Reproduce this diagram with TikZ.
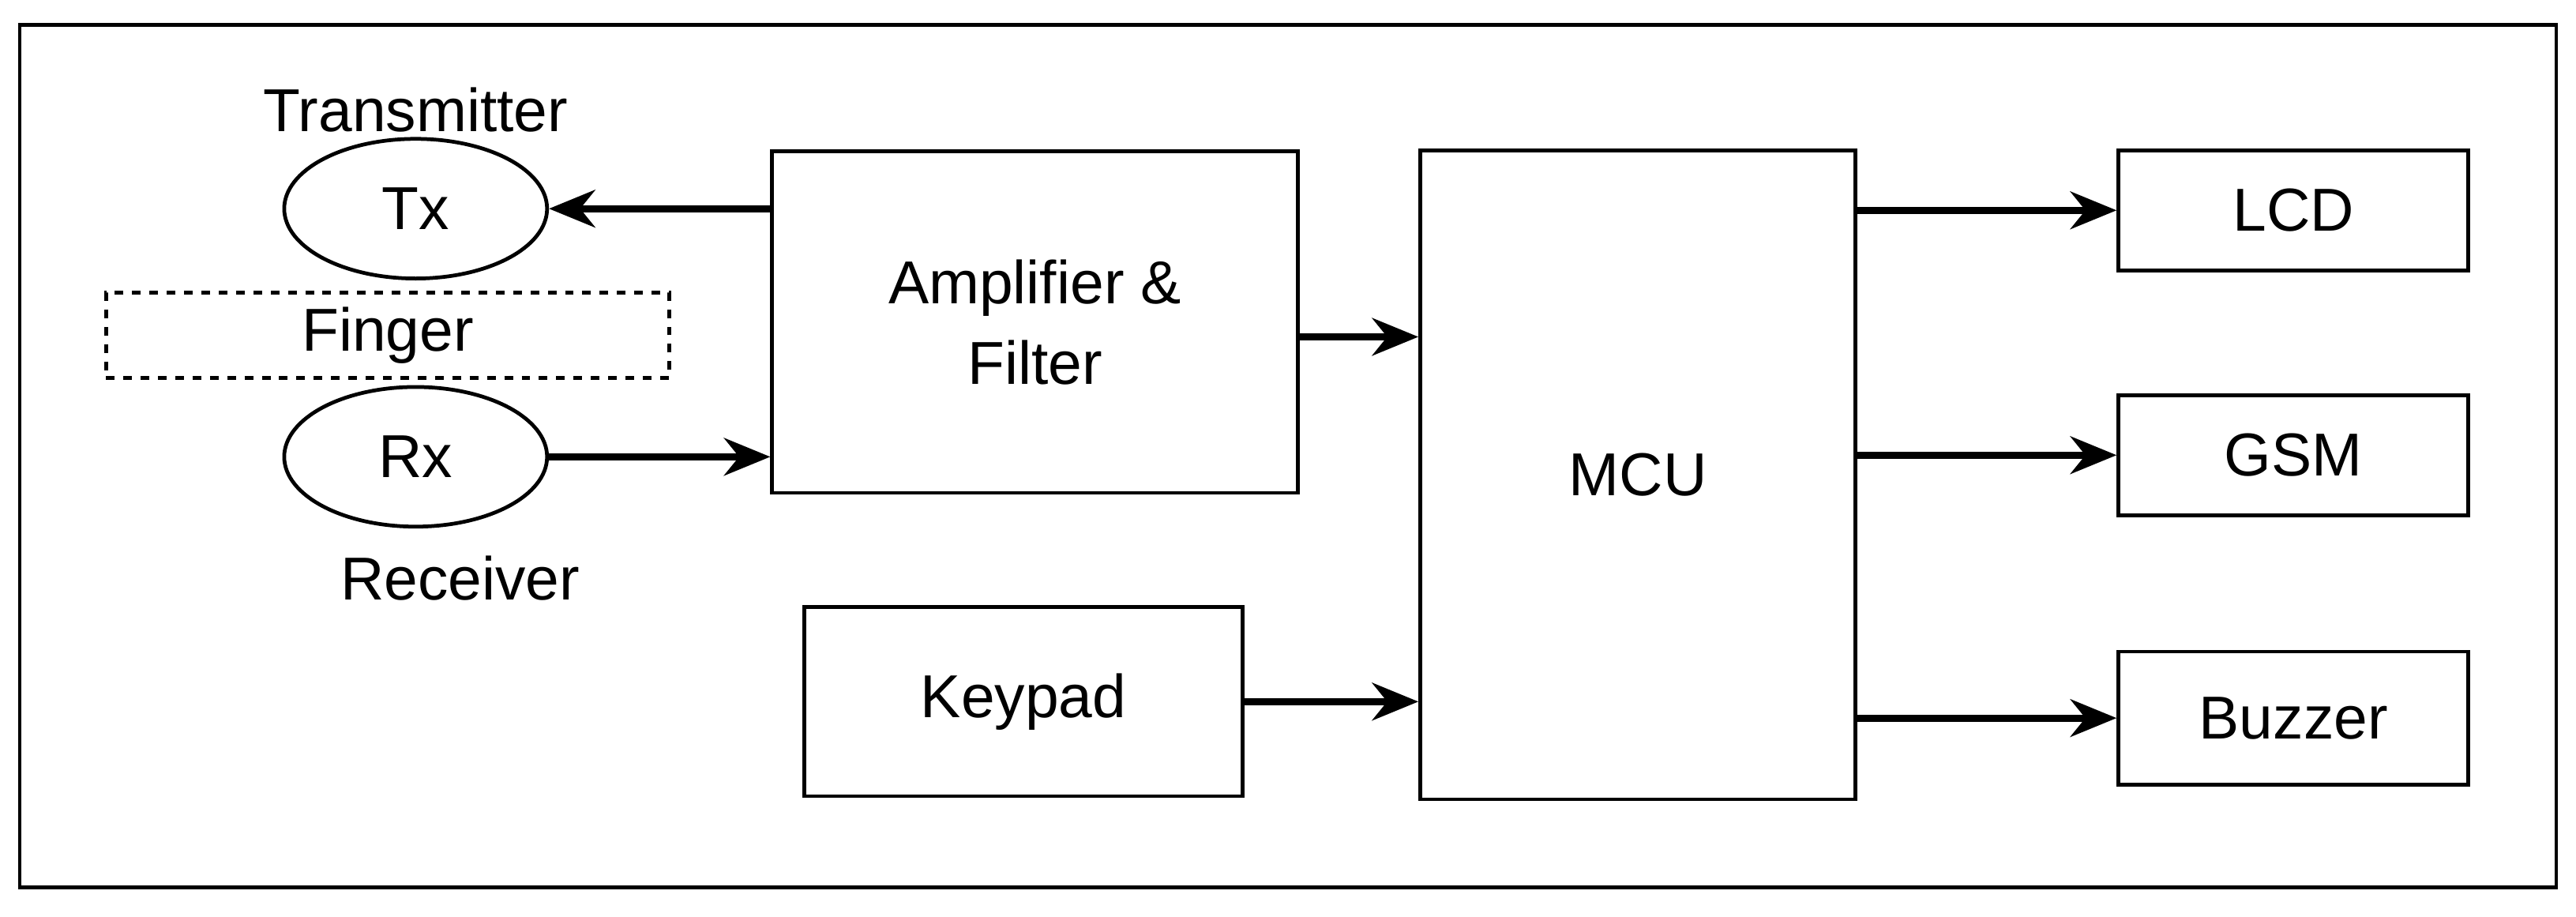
\documentclass[tikz,border=0pt]{standalone}
\usepackage{fontspec}
\setmainfont{Liberation Sans}
\usetikzlibrary{arrows.meta,shapes.geometric}
\begin{document}
\begin{tikzpicture}[x=0.02cm,y=-0.02cm,
  box/.style={draw,line width=1.3pt,inner sep=0pt,align=center,font=\fontsize{21}{28}\selectfont},
  lbl/.style={font=\fontsize{21}{26}\selectfont},
  arr/.style={line width=2.4pt,-{Stealth[length=16pt,width=13pt]}}]
\useasboundingbox (0,0) rectangle (1568,558);
\draw[line width=1.3pt] (12,15) rectangle (1556,540);
\node[box,ellipse,minimum width=160*0.02cm,minimum height=85*0.02cm] (tx) at (253,127) {Tx};
\node[lbl] (tl) at (253,67) {Transmitter};
\node[box,dashed,minimum width=343*0.02cm,minimum height=52*0.02cm] (finger) at (236,204) {Finger};
\node[box,ellipse,minimum width=160*0.02cm,minimum height=85*0.02cm] (rx) at (253,278) {Rx};
\node[lbl] (rl) at (280,352) {Receiver};
\node[box,minimum width=320*0.02cm,minimum height=208*0.02cm] (amp) at (630,196) {Amplifier \&\\Filter};
\node[box,minimum width=265*0.02cm,minimum height=395*0.02cm] (mcu) at (997,289) {MCU};
\node[box,minimum width=267*0.02cm,minimum height=115*0.02cm] (key) at (623,427) {Keypad};
\node[box,minimum width=213*0.02cm,minimum height=73*0.02cm] (lcd) at (1396,128) {LCD};
\node[box,minimum width=213*0.02cm,minimum height=73*0.02cm] (gsm) at (1396,277) {GSM};
\node[box,minimum width=213*0.02cm,minimum height=81*0.02cm] (buz) at (1396,437) {Buzzer};
\draw[arr] (amp.west |- tx) -- (tx.east);
\draw[arr] (rx.east) -- (amp.west |- rx);
\draw[arr] ([yshift=-9*0.02cm]amp.east) -- ([yshift=-9*0.02cm]amp.east -| mcu.west);
\draw[arr] (key.east) -- (key.east -| mcu.west);
\draw[arr] (mcu.east |- lcd) -- (lcd.west);
\draw[arr] (mcu.east |- gsm) -- (gsm.west);
\draw[arr] (mcu.east |- buz) -- (buz.west);
\end{tikzpicture}
\end{document}
